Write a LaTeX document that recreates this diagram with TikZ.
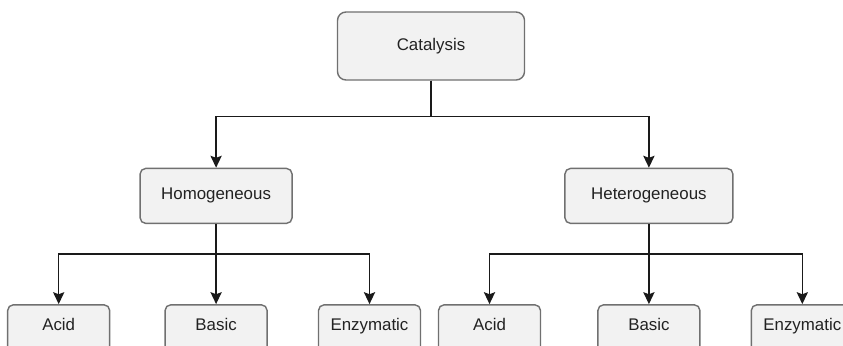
\documentclass[tikz,border=0pt]{standalone}
\usepackage{fontspec}
\setmainfont{Liberation Sans}
\usetikzlibrary{positioning, arrows.meta}
\definecolor{cBoxFill}{HTML}{F2F2F2}
\definecolor{cBoxLine}{HTML}{707070}
\definecolor{cText}{HTML}{222222}
\definecolor{cWire}{HTML}{1A1A1A}
\tikzset{
  rootbox/.style={
    draw=cBoxLine, fill=cBoxFill, rounded corners=6pt, line width=1pt,
    minimum width=4.675cm, minimum height=1.7cm,
    font=\fontsize{12}{14}\selectfont, text=cText
  },
  classbox/.style={
    draw=cBoxLine, fill=cBoxFill, rounded corners=4pt, line width=1pt,
    minimum width=#1, minimum height=1.375cm,
    font=\fontsize{12}{14}\selectfont, text=cText
  },
  leafbox/.style={
    draw=cBoxLine, fill=cBoxFill, rounded corners=4pt, line width=1pt,
    minimum width=2.55cm, minimum height=1.375cm,
    text height=8pt, text depth=10pt,
    font=\fontsize{12}{14}\selectfont, text=cText
  },
  arrowstyle/.style={
    -{Stealth[length=8.5pt, width=8pt, inset=1.5pt]}, line width=1pt,
    color=cWire
  },
}
\begin{document}
\begin{tikzpicture}

% ---- Page ----
\useasboundingbox (0,0) rectangle (21.075,-8.625);
\clip (0,0) rectangle (21.075,-8.625);
\fill[white] (0,0) rectangle (21.075,-8.625);

% ---- Top level ----
\node[rootbox] (catalysis) at (10.775,-1.15) {Catalysis};

% ---- Second level ----
\node[classbox=3.8cm, below left=2.175cm and 1.1cm of catalysis]
  (homog) {Homogeneous};
\node[classbox=4.2cm, below right=2.175cm and 0.975cm of catalysis]
  (heterog) {Heterogeneous};

% ---- Homogeneous leaves ----
\node[leafbox, below=2cm of homog] (basicA) {Basic};
\node[leafbox, left=1.35cm of basicA] (acidA) {Acid};
\node[leafbox, right=1.25cm of basicA] (enzA) {Enzymatic};

% ---- Heterogeneous leaves ----
\node[leafbox, below=2cm of heterog] (basicB) {Basic};
\node[leafbox, left=1.4cm of basicB] (acidB) {Acid};
\node[leafbox, right=1.25cm of basicB] (enzB) {Enzymatic};

% ---- Arrows ----
% catalysis -> classes
\draw[arrowstyle] (catalysis.south) -- ++(0,-0.9) -| (homog.north);
\draw[arrowstyle] (catalysis.south) -- ++(0,-0.9) -| (heterog.north);

% homogeneous -> leaves
\draw[arrowstyle] (homog.south) -- ++(0,-0.75) -| (acidA.north);
\draw[arrowstyle] (homog.south) -- (basicA.north);
\draw[arrowstyle] (homog.south) -- ++(0,-0.75) -| (enzA.north);

% heterogeneous -> leaves
\draw[arrowstyle] (heterog.south) -- ++(0,-0.75) -| (acidB.north);
\draw[arrowstyle] (heterog.south) -- (basicB.north);
\draw[arrowstyle] (heterog.south) -- ++(0,-0.75) -| (enzB.north);

\end{tikzpicture}
\end{document}
